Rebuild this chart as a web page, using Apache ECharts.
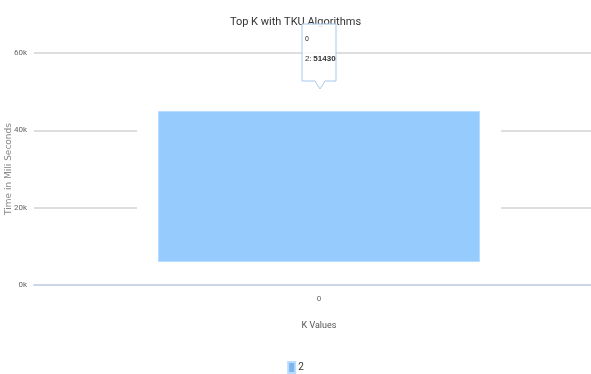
<!DOCTYPE html>
<html>
<head>
<meta charset="utf-8">
<script src="https://cdn.jsdelivr.net/npm/echarts@6/dist/echarts.min.js"></script>
<style>html,body{margin:0;padding:0;background:#fff}#c{width:591px;height:374px}</style>
</head>
<body>
<div id="c"></div>
<script>
const categories = ['0'];
const seriesName = '2';
const barLow = [5950];
const barHigh = [45000];
const yTicks = [0, 20000, 40000, 60000];
const tooltipCategory = '0';
const tooltipValue = [51430];

const chart = echarts.init(document.getElementById('c'));
const font = 'Roboto, "Liberation Sans", sans-serif';
const barLen = barHigh.map((h, i) => h - barLow[i]);

chart.setOption({
  animation: false,
  textStyle: { fontFamily: font },
  title: {
    text: 'Top K with TKU Algorithms',
    left: 'center', top: 12,
    textStyle: { fontSize: 11, fontWeight: 'normal', color: '#333', fontFamily: font }
  },
  legend: {
    data: [{ name: seriesName, itemStyle: { color: '#7cb5ec' } }],
    top: 356, left: 'center',
    itemWidth: 7, itemHeight: 11, itemGap: 4,
    textStyle: { fontSize: 10, color: '#333', fontFamily: font, padding: [0, 0, 0, -2] },
    icon: 'rect'
  },
  grid: { left: 34, right: -13, top: 53, bottom: 89, containLabel: false, outerBoundsMode: 'none' },
  xAxis: [{
    type: 'category', data: categories,
    name: 'K Values', nameLocation: 'middle', nameGap: 36,
    nameTextStyle: { fontSize: 9, color: '#555', fontFamily: font },
    axisLine: { lineStyle: { color: '#ccd6eb', width: 2 } },
    axisTick: { alignWithLabel: true, length: 7, lineStyle: { color: '#ccd6eb' } },
    axisLabel: { fontSize: 8, color: '#666', margin: 10, fontFamily: font }
  }, {
    type: 'category', data: categories, show: false
  }],
  yAxis: {
    type: 'value', min: yTicks[0], max: yTicks[yTicks.length - 1], interval: 20000,
    name: 'Time in Mili Seconds', nameLocation: 'middle', nameGap: 21, nameRotate: 90,
    nameMoveOverlap: false,
    nameTextStyle: { fontSize: 9, color: '#888', fontFamily: 'DejaVu Sans, sans-serif' },
    axisLine: { show: false }, axisTick: { show: false },
    axisLabel: { fontSize: 8, color: '#666', margin: 7, fontFamily: font,
      formatter: v => (v / 1000) + 'k' },
    splitLine: { lineStyle: { color: '#dedede', width: 2 } }
  },
  series: [
    { name: 'baseW', type: 'bar', xAxisIndex: 1, stack: 'w', data: barLow, barWidth: 364,
      itemStyle: { color: 'rgba(0,0,0,0)' }, silent: true },
    { name: 'gap', type: 'bar', xAxisIndex: 1, stack: 'w', data: barLen, barWidth: 364,
      itemStyle: { color: '#ffffff' }, silent: true },
    { name: 'base', type: 'bar', xAxisIndex: 0, stack: 'b', data: barLow, barWidth: 322,
      itemStyle: { color: 'rgba(0,0,0,0)' }, silent: true },
    { name: seriesName, type: 'bar', xAxisIndex: 0, stack: 'b', data: barLen, barWidth: 322,
      itemStyle: { color: '#96cbfe', borderColor: '#b8dcff', borderWidth: 1 } }
  ],
  graphic: [{
    type: 'group', z: 100,
    children: [
      { type: 'polygon', z: 100,
        shape: { points: [[302,24],[336,24],[336,81],[325,81],[320,89],[315,81],[302,81]] },
        style: { fill: 'rgba(255,255,255,0.85)', stroke: '#a9c9ec', lineWidth: 1 } },
      { type: 'text', z: 101, left: 305, top: 36,
        style: { text: tooltipCategory, fontSize: 7, fill: '#333', fontFamily: font } },
      { type: 'text', z: 101, left: 305, top: 55,
        style: { text: '{a|' + seriesName + '}: {b|' + tooltipValue[0] + '}', fontFamily: font,
          rich: { a: { fontSize: 8, color: '#7cb5ec' }, b: { fontSize: 8, fontWeight: 'bold', color: '#333' } },
          fontSize: 8, fill: '#333' } }
    ]
  }]
});
</script>
</body>
</html>
